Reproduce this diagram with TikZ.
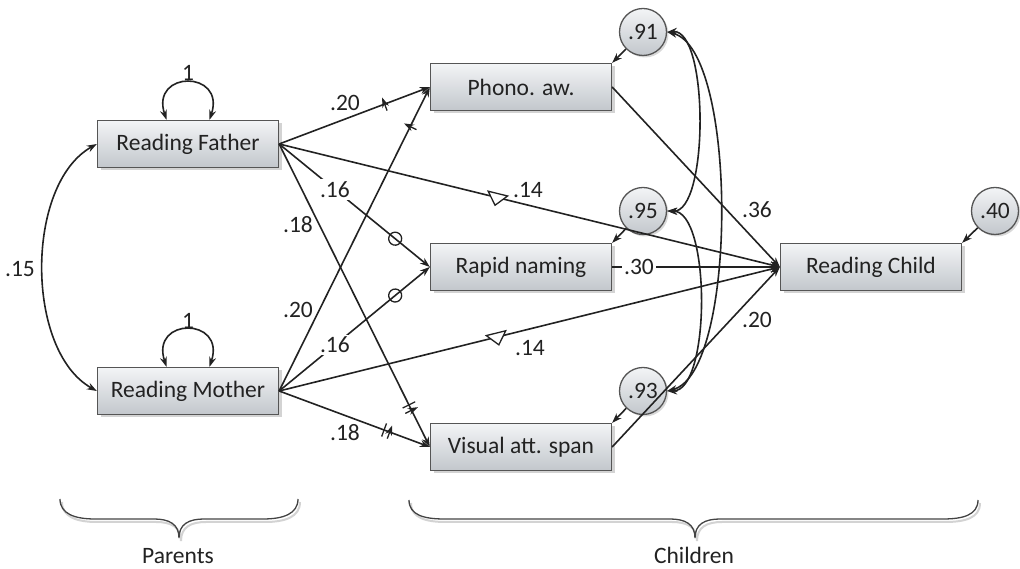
\documentclass[tikz,border=0pt]{standalone}
\usepackage{fontspec}
\setmainfont{Carlito}
\usetikzlibrary{arrows.meta,shadows,decorations.markings,calc}
\definecolor{ink}{HTML}{222222}
\definecolor{boxtop}{HTML}{F3F4F6}
\definecolor{boxbot}{HTML}{C2C7CC}
\definecolor{boxline}{HTML}{555555}
\tikzset{
  var/.style={draw=boxline, line width=1.3pt, top color=boxtop, bottom color=boxbot,
    minimum width=181pt, minimum height=47pt, inner sep=0pt,
    drop shadow={shadow xshift=3pt, shadow yshift=-3pt, opacity=0.35},
    font=\fontsize{23.5}{27}\selectfont, text=ink},
  err/.style={circle, draw=boxline, line width=1.3pt, top color=boxtop, bottom color=boxbot,
    minimum size=47pt, inner sep=0pt,
    drop shadow={shadow xshift=2pt, shadow yshift=-2pt, opacity=0.3},
    font=\fontsize{23.5}{27}\selectfont, text=ink},
  conn/.style={draw=ink, line width=1.6pt, -{Stealth[length=10pt,width=7pt]}},
  bicov/.style={draw=ink, line width=1.6pt, {Stealth[length=10pt,width=7pt]}-{Stealth[length=10pt,width=7pt]}},
  lab/.style={font=\fontsize{23.5}{27}\selectfont, text=ink, inner sep=1pt},
  onlab/.style={lab, fill=white, inner sep=2pt},
  bracestyle/.style={draw=ink!85, line width=1.3pt},
  tickm/.style={postaction={decorate, decoration={markings, mark=at position #1 with {\draw[ink, line width=1.3pt] (0pt,-7pt) -- (0pt,7pt);}}}},
  dtickm/.style={postaction={decorate, decoration={markings, mark=at position #1 with {\draw[ink, line width=1.3pt] (-3pt,-7pt) -- (-3pt,7pt) (3pt,-7pt) -- (3pt,7pt);}}}},
  circm/.style={postaction={decorate, decoration={markings, mark=at position #1 with {\draw[ink, line width=1.3pt] (0pt,0pt) circle (6.5pt);}}}},
  trim/.style={postaction={decorate, decoration={markings, mark=at position #1 with {\draw[ink, line width=1.3pt, fill=white] (-10pt,4pt) -- (10pt,4pt) -- (0pt,-8pt) -- cycle;}}}},
}
\begin{document}
\begin{tikzpicture}[x=1pt,y=1pt]
\useasboundingbox (0,0) rectangle (1020,569);

% variables
\node[var] (F) at (188,425) {Reading Father};
\node[var] (M) at (188,178) {Reading Mother};
\node[var] (P) at (521,482) {Phono. aw.};
\node[var] (R) at (521,302) {Rapid naming};
\node[var] (V) at (521,122) {Visual att. span};
\node[var] (C) at (871,302) {Reading Child};
% errors
\node[err] (e91) at (643,537) {.91};
\node[err] (e95) at (643,358) {.95};
\node[err] (e93) at (643,178) {.93};
\node[err] (e40) at (995,358) {.40};

% self loops
\draw[bicov] ([xshift=-21.5pt]F.north) .. controls (150,499) and (226,499) .. ([xshift=21.5pt]F.north);
\node[lab] (oneF) at (188,496) {1};
\draw[bicov] ([xshift=-21.5pt]M.north) .. controls (150,252) and (226,252) .. ([xshift=21.5pt]M.north);
\node[lab] (oneM) at (188,248) {1};

% parent covariance
\draw[bicov] (F.west) .. controls (25,385) and (25,218) .. (M.west);
\node[lab] (c15) at (20,300) {.15};

% paths from parents
\draw[conn, tickm=0.70] (F.east) -- (P.west);
\draw[conn, tickm=0.87] (M.east) -- (P.west);
\draw[conn, circm=0.77] (F.east) -- node[onlab, pos=0.37] (l16a) {.16} (R.west);
\draw[conn, circm=0.77] (M.east) -- node[onlab, pos=0.37] (l16b) {.16} (R.west);
\draw[conn, dtickm=0.87] (F.east) -- (V.west);
\draw[conn, dtickm=0.715] (M.east) -- (V.west);
\draw[conn, trim=0.435] (F.east) -- (C.west);
\draw[conn, trim=0.435] (M.east) -- (C.west);

\node[lab] (l20a) at (345,466) {.20};
\node[lab] (l18a) at (298,344) {.18};
\node[lab] (l20b) at (298,259) {.20};
\node[lab] (l18b) at (345,136) {.18};
\node[lab] (l14a) at (528,379) {.14};
\node[lab] (l14b) at (530,221) {.14};

% paths to child
\draw[conn] (P.east) -- (C.west);
\draw[conn] (R.east) -- node[onlab, pos=0.16] (l30) {.30} (C.west);
\draw[conn] (V.east) -- (C.west);
\node[lab] (l36) at (757,359) {.36};
\node[lab] (l20c) at (757,249) {.20};

% errors to variables
\draw[conn] (e91) -- (P.north east);
\draw[conn] (e95) -- (R.north east);
\draw[conn] (e93) -- (V.north east);
\draw[conn] (e40) -- (C.north east);

% error covariances
\draw[bicov] (e91.east) .. controls (709,540) and (709,356) .. (e95.east);
\draw[bicov] (e91.east) .. controls (738,520) and (738,196) .. (e93.east);
\draw[bicov] (e95.east) .. controls (711,358) and (711,178) .. (e93.east);

% braces
\draw[ink!20, line width=2pt] (62,67) .. controls (62,52) and (77,47) .. (97,47) -- (156,47) .. controls (171,47) and (181,42) .. (181,28)
  .. controls (181,42) and (191,47) .. (206,47) -- (265,47) .. controls (285,47) and (300,52) .. (300,67);
\draw[bracestyle] (60,70) .. controls (60,55) and (75,50) .. (95,50) -- (154,50) .. controls (169,50) and (179,45) .. (179,31)
  .. controls (179,45) and (189,50) .. (204,50) -- (263,50) .. controls (283,50) and (298,55) .. (298,70);
\node[lab, anchor=base] (par) at (178,5) {Parents};

\draw[ink!20, line width=2pt] (411,66) .. controls (411,51) and (426,47) .. (446,47) -- (672,47) .. controls (687,47) and (697,42) .. (697,28)
  .. controls (697,42) and (707,47) .. (722,47) -- (945,47) .. controls (965,47) and (980,51) .. (980,66);
\draw[bracestyle] (409,69) .. controls (409,54) and (424,50) .. (444,50) -- (670,50) .. controls (685,50) and (695,45) .. (695,31)
  .. controls (695,45) and (705,50) .. (720,50) -- (943,50) .. controls (963,50) and (978,54) .. (978,69);
\node[lab, anchor=base] (chi) at (694,5) {Children};
\end{tikzpicture}
\end{document}
